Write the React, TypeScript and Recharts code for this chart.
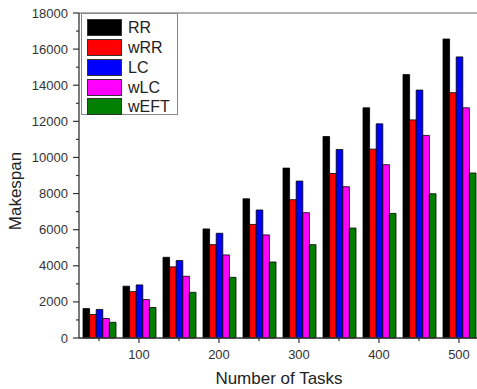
import React from 'react';
import { BarChart, Bar, XAxis, YAxis, ReferenceLine, Legend, Label } from 'recharts';

const tasks = [50, 100, 150, 200, 250, 300, 350, 400, 450, 500];
const rr = [1630, 2870, 4470, 6040, 7710, 9410, 11160, 12750, 14590, 16560];
const wrr = [1300, 2570, 3940, 5170, 6290, 7660, 9110, 10460, 12080, 13590];
const lc = [1580, 2940, 4290, 5800, 7090, 8690, 10440, 11860, 13730, 15570];
const wlc = [1080, 2130, 3420, 4600, 5710, 6940, 8380, 9600, 11220, 12750];
const weft = [870, 1690, 2530, 3360, 4210, 5170, 6090, 6900, 7990, 9140];
const yTicks = [0, 1000, 2000, 3000, 4000, 5000, 6000, 7000, 8000, 9000, 10000, 11000, 12000, 13000, 14000, 15000, 16000, 17000, 18000];

const seriesNames = ['RR', 'wRR', 'LC', 'wLC', 'wEFT'];
const seriesValues = [rr, wrr, lc, wlc, weft];
const seriesColors = ['#000000', '#ff0000', '#0000ff', '#ff00ff', '#007f00'];

const data = tasks.map((t, i) => {
  const row: any = { tasks: t };
  seriesNames.forEach((n, k) => { row[n] = seriesValues[k][i]; });
  return row;
});

const FONT = '"Liberation Sans", Arial, sans-serif';

const YTick = (props: any) => {
  const { x, y, payload } = props;
  const v = payload.value;
  const major = v % 2000 === 0;
  const ax = x + 8;
  return (
    <g>
      <line x1={ax - (major ? 6 : 3)} x2={ax} y1={y} y2={y} stroke="#333" strokeWidth={1.2} />
      {major && (
        <text x={x - 3} y={y} dy={4.5} textAnchor="end" fontSize={13} fill="#333" fontFamily={FONT}>{v}</text>
      )}
    </g>
  );
};

const XTick = (props: any) => {
  const { x, y, payload } = props;
  const v = payload.value;
  const major = v % 100 === 0;
  const ay = y - 8;
  return (
    <g>
      <line x1={x} x2={x} y1={ay} y2={ay + (major ? 5 : 3)} stroke="#333" strokeWidth={1.2} />
      {major && (
        <text x={x} y={y} dy={13} textAnchor="middle" fontSize={13} fill="#333" fontFamily={FONT}>{v}</text>
      )}
    </g>
  );
};

const LegendBox = () => (
  <div style={{ width: 97, height: 102, border: '1px solid #888', background: '#fff', boxSizing: 'border-box', paddingTop: 4, paddingLeft: 5, fontFamily: FONT }}>
    {seriesNames.map((n, k) => (
      <div key={n} style={{ display: 'flex', alignItems: 'center', height: 19.75 }}>
        <div style={{ width: 35, height: 17, background: seriesColors[k], border: '1px solid #333', boxSizing: 'border-box' }} />
        <span style={{ marginLeft: 6, fontSize: 16, color: '#222', lineHeight: '17px' }}>{n}</span>
      </div>
    ))}
  </div>
);

export default function App() {
  return (
    <div style={{ position: 'fixed', left: 0, top: 0, width: 477, height: 389, overflow: 'hidden', background: '#fff' }}>
      <BarChart
        width={500}
        height={389}
        data={data}
        margin={{ top: 13, right: 21, bottom: 11, left: 0 }}
        barGap={0}
        barSize={6.6}
      >
        <XAxis
          dataKey="tasks"
          height={40}
          tick={<XTick />}
          tickLine={false}
          tickSize={6}
          tickMargin={2}
          interval={0}
          axisLine={{ stroke: '#333', strokeWidth: 1.3 }}
        >
          <Label
            content={() => (
              <text x={279} y={384} textAnchor="middle" fontSize={17} fill="#222" fontFamily={FONT}>Number of Tasks</text>
            )}
          />
        </XAxis>
        <YAxis
          width={79}
          domain={[0, 18000]}
          ticks={yTicks}
          interval={0}
          tick={<YTick />}
          tickLine={false}
          tickSize={6}
          tickMargin={2}
          axisLine={{ stroke: '#333', strokeWidth: 1.3 }}
        >
          <Label
            content={() => (
              <text x={21} y={191} transform="rotate(-90, 21, 191)" textAnchor="middle" fontSize={17} fill="#222" fontFamily={FONT}>Makespan</text>
            )}
          />
        </YAxis>
        <ReferenceLine y={18000} stroke="#666" strokeWidth={1.2} />
        <Legend
          layout="vertical"
          align="center"
          verticalAlign="middle"
          content={<LegendBox />}
          wrapperStyle={{ left: 81, top: 13, width: 97, height: 102 }}
        />
        {seriesNames.map((n, k) => (
          <Bar key={n} dataKey={n} fill={seriesColors[k]} stroke="#000" strokeWidth={0.8} isAnimationActive={false} />
        ))}
      </BarChart>
    </div>
  );
}
